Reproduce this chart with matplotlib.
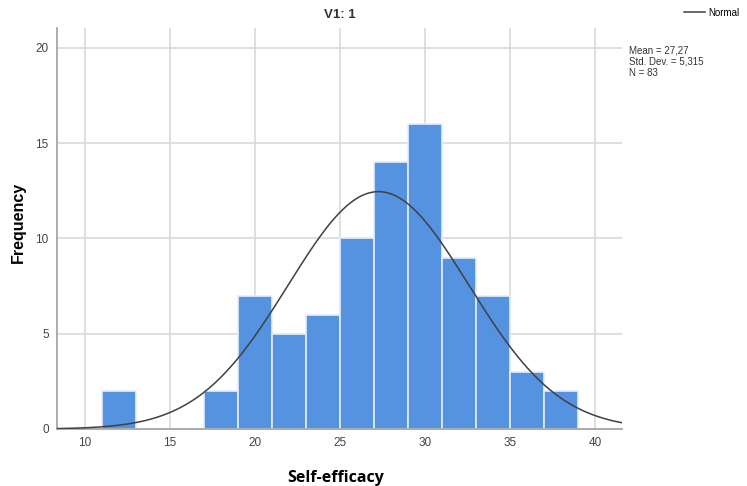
import numpy as np
import matplotlib.pyplot as plt

plt.rcParams['font.family'] = ['Liberation Sans', 'DejaVu Sans']

# histogram bins (width 2) and counts
bin_left = [11, 17, 19, 21, 23, 25, 27, 29, 31, 33, 35, 37]
counts = [2, 2, 7, 5, 6, 10, 14, 16, 9, 7, 3, 2]
bin_width = 2

mean = 27.27
sd = 5.315
n = 83

xticks = [10, 15, 20, 25, 30, 35, 40]
yticks = [0, 5, 10, 15, 20]

fig = plt.figure(figsize=(7.47, 4.86), dpi=100)
ax = fig.add_axes([0.0763, 0.1173, 0.7564, 0.8251])

ax.set_xlim(8.35, 41.6)
ax.set_ylim(0, 21.05)
ax.set_xticks(xticks)
ax.set_yticks(yticks)
ax.grid(True, color='#d9d9d9', linewidth=1.2)
ax.set_axisbelow(True)

ax.bar(bin_left, counts, width=bin_width, align='edge',
       color='#5592e0', edgecolor='#e6eefa', linewidth=1.2, zorder=2)

# normal curve
xs = np.linspace(8.35, 41.6, 400)
ys = n * bin_width / (sd * np.sqrt(2 * np.pi)) * np.exp(-0.5 * ((xs - mean) / sd) ** 2)
line, = ax.plot(xs, ys, color='#404040', linewidth=1.1, zorder=3)

for s in ['top', 'right']:
    ax.spines[s].set_visible(False)
for s in ['left', 'bottom']:
    ax.spines[s].set_color('#a6a6a6')
    ax.spines[s].set_linewidth(1.3)
ax.tick_params(length=0, labelsize=8.5, labelcolor='#444444', pad=6)

ax.set_title('V1: 1', fontsize=9.5, fontweight='bold', color='#333333', pad=7)
fig.text(0.024, 0.543, 'Frequency', rotation=90, fontsize=11.5, fontweight='bold',
         ha='center', va='center')
fig.text(0.45, 0.016, 'Self-efficacy', fontsize=11.5, fontweight='bold',
         family=['Open Sans', 'DejaVu Sans'], ha='center', va='center')

fig.text(0.842, 0.907, 'Mean = 27,27\nStd. Dev. = 5,315\nN = 83',
         fontsize=7, color='#333333', va='top', linespacing=1.2)
fig.legend([line], ['Normal'], loc='upper right', bbox_to_anchor=(1.0, 1.0),
           frameon=False, fontsize=7, handlelength=2.2, handletextpad=0.3,
           borderaxespad=0.4)

fig.savefig('out.png', dpi=100)
